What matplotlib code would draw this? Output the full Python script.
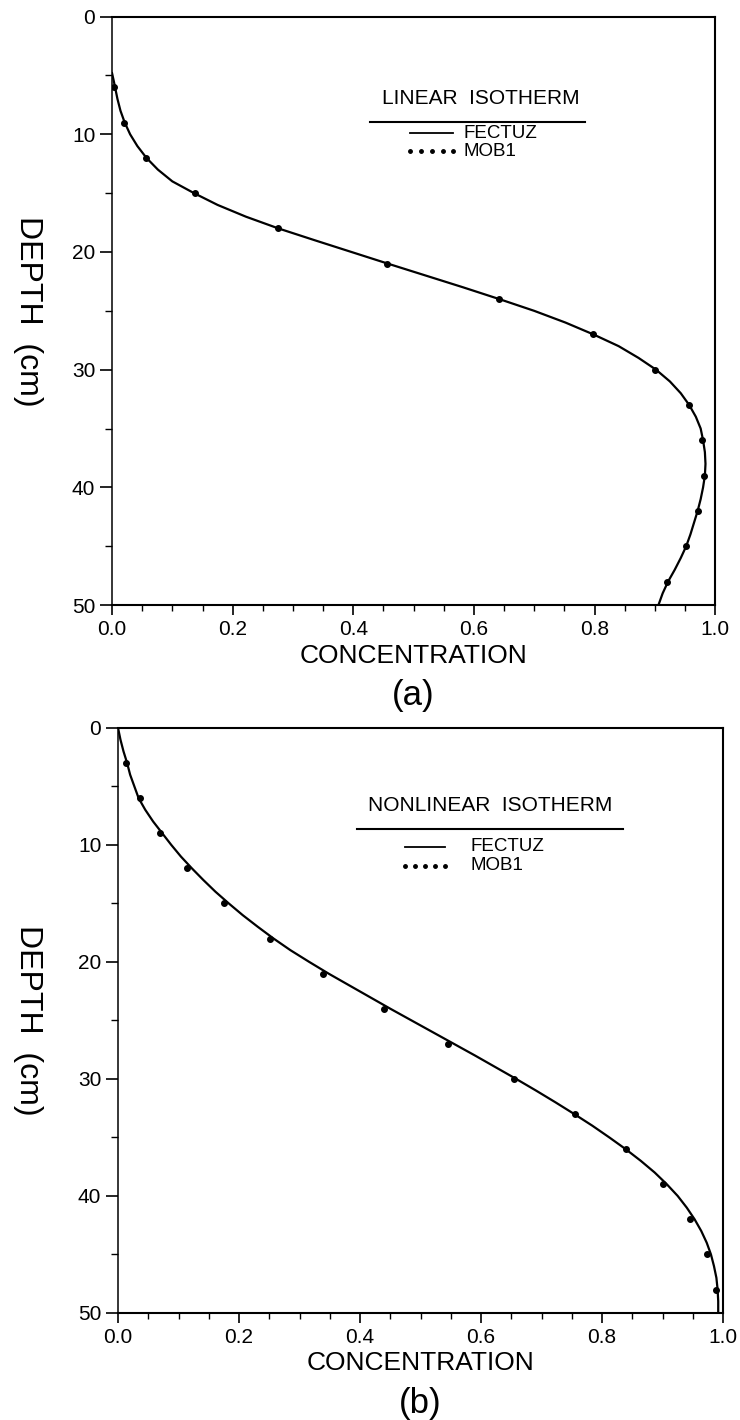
import numpy as np
import matplotlib.pyplot as plt
from matplotlib.ticker import MultipleLocator

plt.rcParams['font.family'] = ['Liberation Sans', 'DejaVu Sans']

# (a) linear isotherm - FECTUZ line
lin_depth = [4.8, 5.5, 6, 7, 8, 9, 10, 11, 12, 13, 14, 15, 16, 17, 18, 19, 20,
             21, 22, 23, 24, 25, 26, 27, 28, 29, 30, 31, 32, 33, 34, 35, 36,
             37, 38, 39, 40, 41, 42, 43, 44, 45, 46, 47, 48, 49, 50]
lin_conc = [0.0, 0.003, 0.005, 0.009, 0.014, 0.021, 0.030, 0.042, 0.057,
            0.076, 0.100, 0.136, 0.175, 0.222, 0.276, 0.336, 0.397, 0.458,
            0.520, 0.582, 0.642, 0.700, 0.752, 0.798, 0.840, 0.873, 0.902,
            0.925, 0.943, 0.957, 0.968, 0.976, 0.980, 0.983, 0.984, 0.983,
            0.980, 0.976, 0.971, 0.965, 0.959, 0.952, 0.943, 0.933, 0.922,
            0.913, 0.906]

# (a) linear isotherm - MOB1 points
lin_mob_depth = [6, 9, 12, 15, 18, 21, 24, 27, 30, 33, 36, 39, 42, 45, 48]
lin_mob_conc = [0.004, 0.02, 0.057, 0.138, 0.276, 0.456, 0.642, 0.797,
                0.900, 0.956, 0.978, 0.981, 0.971, 0.951, 0.921]

# (b) nonlinear isotherm - FECTUZ line
nl_depth = list(range(0, 51))
nl_conc = [0.0, 0.004, 0.009, 0.015, 0.020, 0.027, 0.034, 0.045, 0.058,
           0.073, 0.088, 0.104, 0.122, 0.141, 0.161, 0.183, 0.206, 0.231,
           0.257, 0.285, 0.316, 0.348, 0.382, 0.416, 0.450, 0.485, 0.520,
           0.555, 0.590, 0.624, 0.658, 0.691, 0.723, 0.754, 0.784, 0.812,
           0.839, 0.864, 0.887, 0.907, 0.925, 0.940, 0.953, 0.964, 0.973,
           0.980, 0.985, 0.989, 0.991, 0.992, 0.992]

# (b) nonlinear isotherm - MOB1 points
nl_mob_depth = [3, 6, 9, 12, 15, 18, 21, 24, 27, 30, 33, 36, 39, 42, 45, 48]
nl_mob_conc = [0.013, 0.036, 0.069, 0.114, 0.175, 0.251, 0.339, 0.44,
               0.545, 0.655, 0.755, 0.84, 0.90, 0.946, 0.974, 0.988]

panels = [
    dict(rect=[0.1514, 0.5739, 0.815, 0.4144], depth=lin_depth, conc=lin_conc,
         mdepth=lin_mob_depth, mconc=lin_mob_conc, title='LINEAR  ISOTHERM',
         tag='(a)', ylx=-0.14,
         leg=dict(tx=0.612, ty=0.845, ux=(0.428, 0.784), uy=0.821,
                  lx=(0.494, 0.566), fy=0.802, my=0.771, txt=0.582)),
    dict(rect=[0.1595, 0.0754, 0.8176, 0.4120], depth=nl_depth, conc=nl_conc,
         mdepth=nl_mob_depth, mconc=nl_mob_conc, title='NONLINEAR  ISOTHERM',
         tag='(b)', ylx=-0.149,
         leg=dict(tx=0.615, ty=0.851, ux=(0.395, 0.835), uy=0.827,
                  lx=(0.474, 0.540), fy=0.797, my=0.764, txt=0.582)),
]

fig = plt.figure(figsize=(7.4, 14.2), dpi=100)

for p in panels:
    ax = fig.add_axes(p['rect'])
    ax.plot(p['conc'], p['depth'], color='black', lw=1.6)
    ax.plot(p['mconc'], p['mdepth'], 'o', color='black', ms=4, ls='none')
    ax.set_xlim(0, 1)
    ax.set_ylim(50, 0)
    ax.xaxis.set_major_locator(MultipleLocator(0.2))
    ax.xaxis.set_minor_locator(MultipleLocator(0.05))
    ax.yaxis.set_major_locator(MultipleLocator(10))
    ax.yaxis.set_minor_locator(MultipleLocator(5))
    ax.xaxis.set_major_formatter(lambda v, pos: f'{v:.1f}')
    ax.tick_params(axis='x', which='major', direction='out', length=7,
                   width=1.2, labelsize=15, pad=4)
    ax.tick_params(axis='x', which='minor', direction='out', length=4,
                   width=1.0)
    ax.tick_params(axis='y', which='major', direction='out', length=9,
                   width=1.2, labelsize=15, pad=3)
    ax.tick_params(axis='y', which='minor', direction='out', length=5,
                   width=1.0)
    for s in ax.spines.values():
        s.set_linewidth(1.5)
    ax.spines['left'].set_linewidth(1.1)
    ax.set_xlabel('CONCENTRATION', fontsize=19, labelpad=3)
    ax.set_ylabel('DEPTH  (cm)', fontsize=23, rotation=270, va='center')
    ax.yaxis.set_label_coords(p['ylx'], 0.5)
    ax.text(0.5, -0.154, p['tag'], transform=ax.transAxes, ha='center',
            va='center', fontsize=25)

    # legend block
    lg = p['leg']
    ax.text(lg['tx'], lg['ty'], p['title'], transform=ax.transAxes,
            ha='center', va='bottom', fontsize=15)
    ax.plot(lg['ux'], [lg['uy'], lg['uy']], color='black', lw=1.5,
            transform=ax.transAxes)
    ax.plot(lg['lx'], [lg['fy'], lg['fy']], color='black', lw=1.3,
            transform=ax.transAxes)
    ax.text(lg['txt'], lg['fy'], 'FECTUZ', transform=ax.transAxes,
            ha='left', va='center', fontsize=13.5)
    ax.plot(np.linspace(lg['lx'][0], lg['lx'][1], 5), [lg['my']] * 5, 'o',
            color='black', ms=2.5, transform=ax.transAxes)
    ax.text(lg['txt'], lg['my'], 'MOB1', transform=ax.transAxes,
            ha='left', va='center', fontsize=13.5)

fig.savefig('out.png', dpi=100, facecolor='white')
